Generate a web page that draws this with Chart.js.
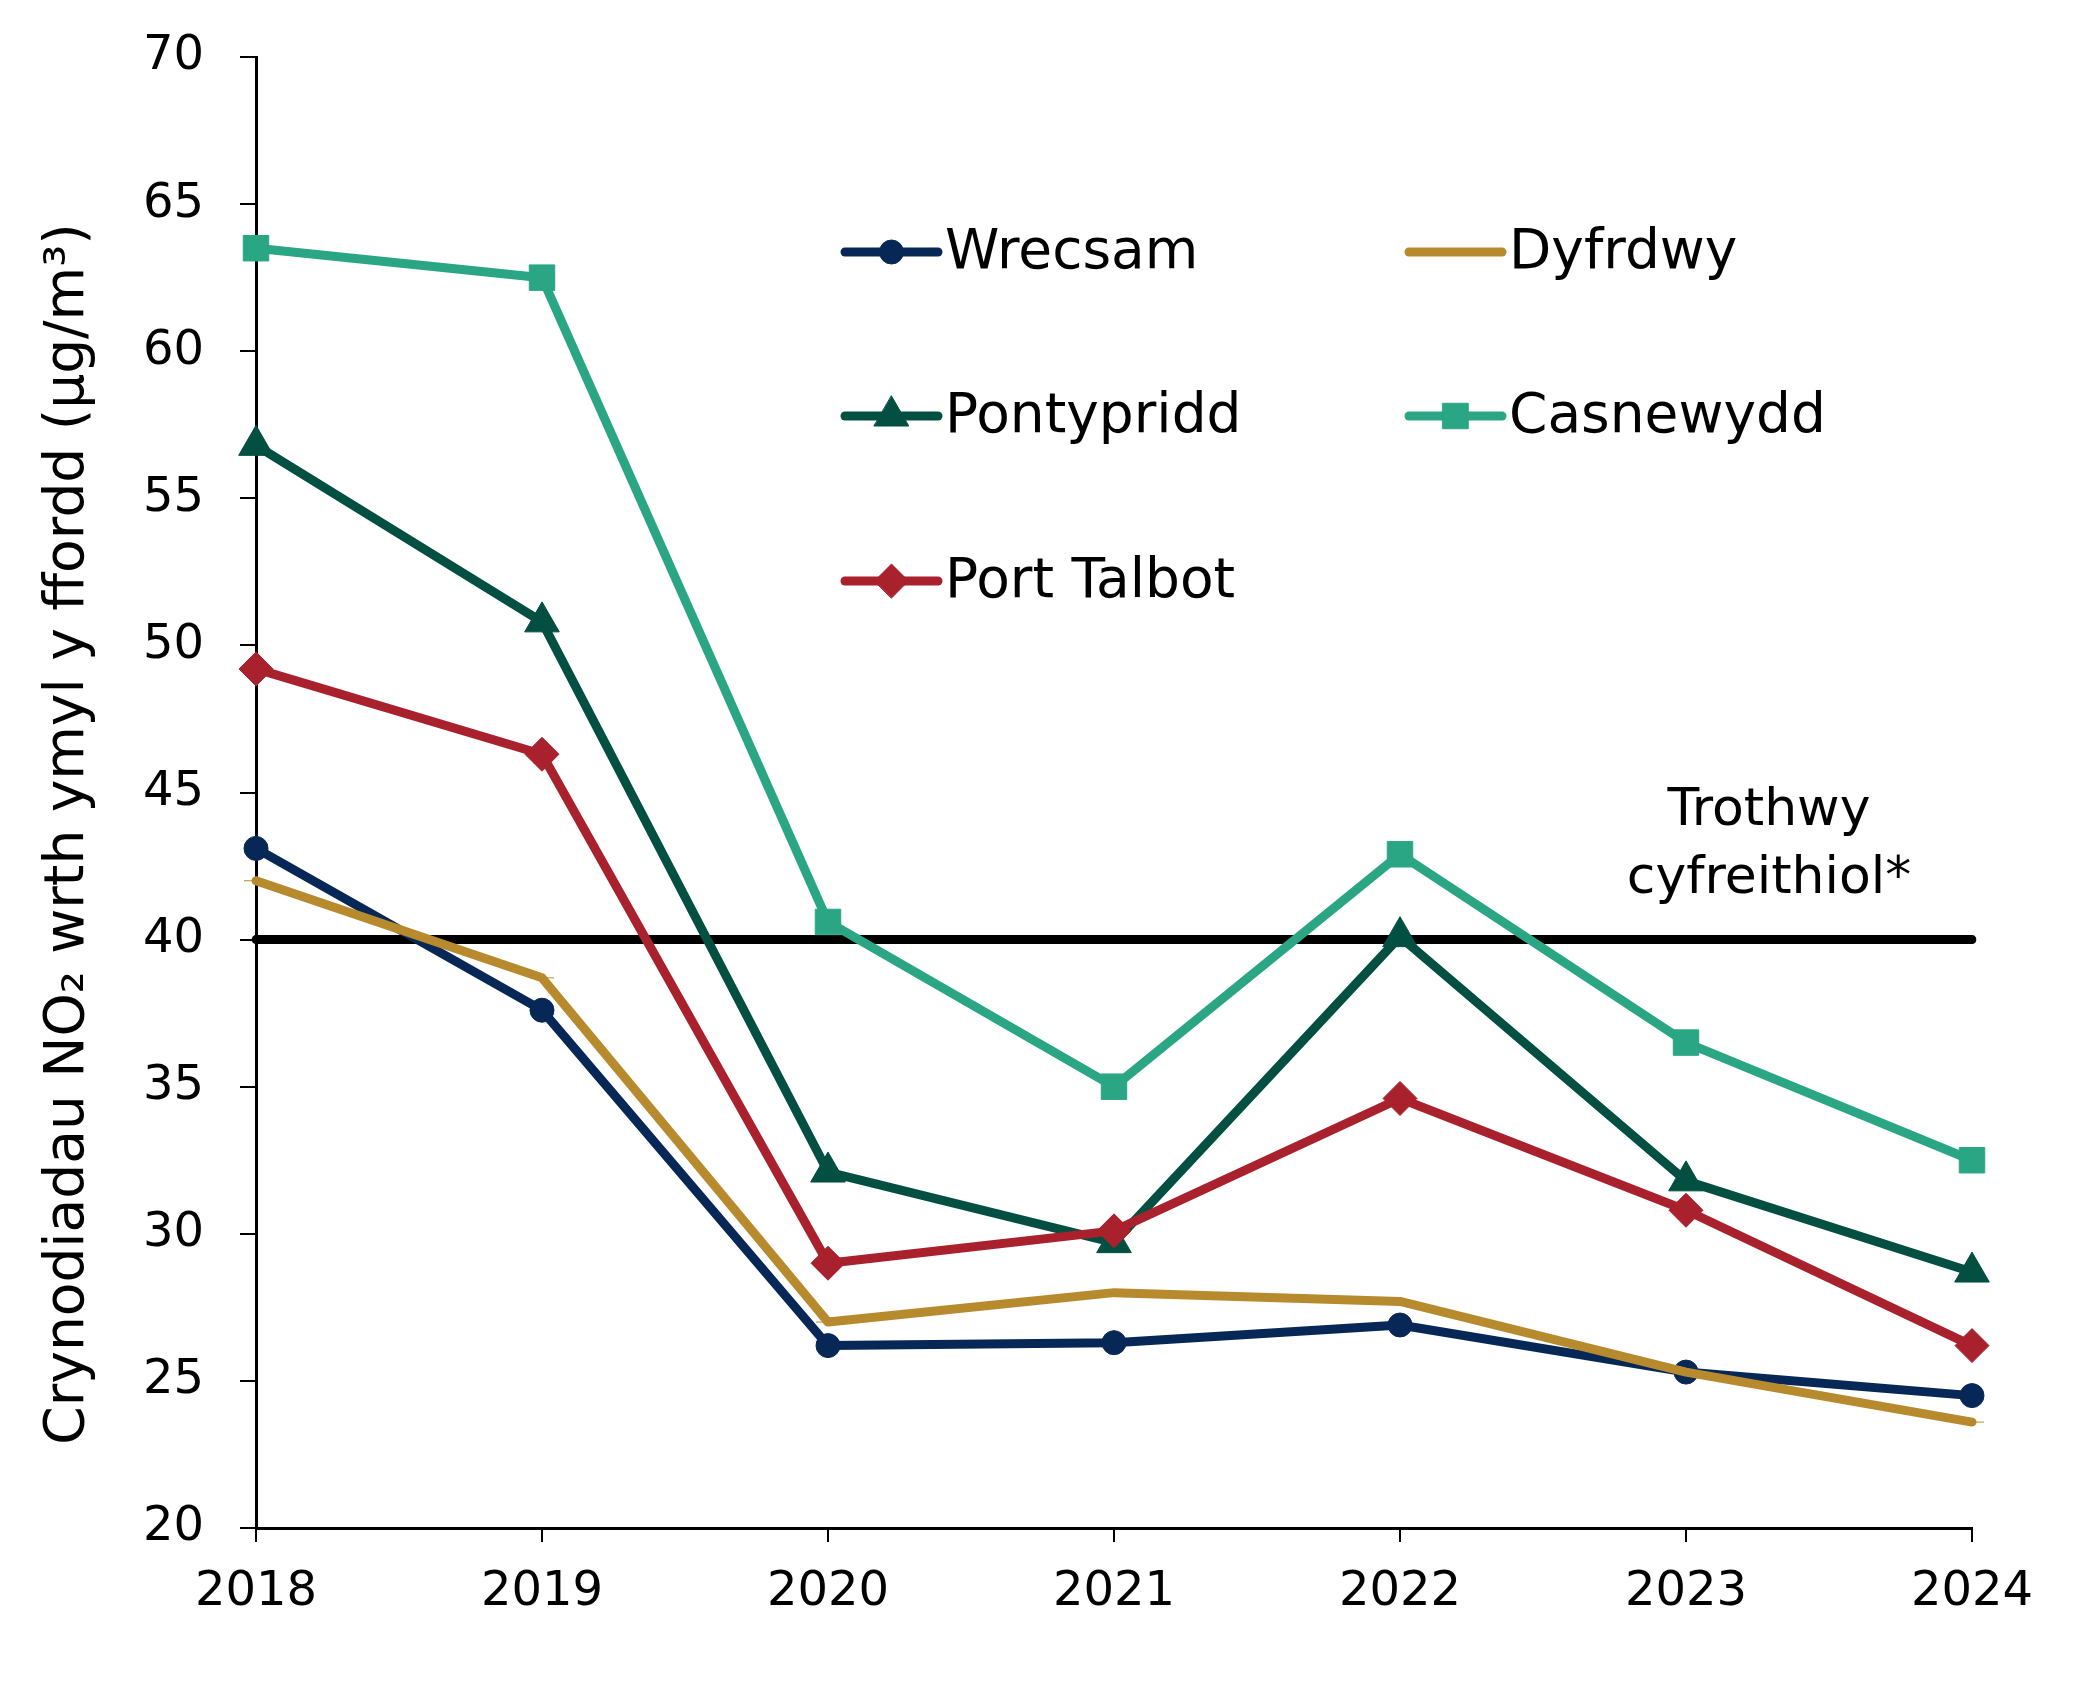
<!DOCTYPE html>
<html>
<head>
<meta charset="utf-8">
<script src="https://cdn.jsdelivr.net/npm/chart.js@4"></script>
<style>
  html, body { margin: 0; padding: 0; background: #fff; }
  #wrap { width: 2084px; height: 1703px; }
</style>
</head>
<body>
<div id="wrap"><canvas id="no2Chart" width="2084" height="1703"></canvas></div>
<script>
// data
const years = ['2018', '2019', '2020', '2021', '2022', '2023', '2024'];
const wrecsam = [43.1, 37.6, 26.2, 26.3, 26.9, 25.3, 24.5];
const dyfrdwy = [42.0, 38.7, 27.0, 28.0, 27.7, 25.3, 23.6];
const pontypridd = [56.8, 50.8, 32.1, 29.7, 40.1, 31.8, 28.7];
const casnewydd = [63.5, 62.5, 40.6, 35.0, 42.9, 36.5, 32.5];
const portTalbot = [49.2, 46.3, 29.0, 30.1, 34.6, 30.8, 26.2];
const thresholdValue = 40;
const thresholdLabel = ['Trothwy', 'cyfreithiol*'];
const yTitle = 'Crynodiadau NO₂ wrth ymyl y ffordd (µg/m³)';

const FONT = "'DejaVu Sans', sans-serif";

function series(label, data, color, style, radius, order) {
    return {
        label: label,
        data: data,
        borderColor: color,
        backgroundColor: color,
        borderWidth: 9,
        borderCapStyle: 'round',
        borderJoinStyle: 'round',
        pointStyle: style,
        pointRadius: radius,
        pointHoverRadius: radius,
        pointBorderWidth: 1,
        pointBackgroundColor: color,
        pointBorderColor: color,
        tension: 0,
        order: order
    };
}

const datasets = [
    series('Wrecsam', wrecsam, '#072857', 'circle', 12, 5),
    series('Dyfrdwy', dyfrdwy, '#B78A2E', 'line', 12, 4),
    series('Pontypridd', pontypridd, '#034F41', 'triangle', 20, 3),
    series('Casnewydd', casnewydd, '#2BA684', 'rect', 18, 2),
    series('Port Talbot', portTalbot, '#A9212D', 'rectRot', 17, 1),
    {
        label: 'threshold',
        data: years.map(() => thresholdValue),
        borderColor: '#000',
        borderWidth: 9,
        borderCapStyle: 'round',
        pointRadius: 0,
        pointHoverRadius: 0,
        order: 10
    }
];

// legend in two columns inside the plot, threshold label and y title
const extrasPlugin = {
    id: 'extras',
    afterDatasetsDraw(chart) {
        const ctx = chart.ctx;
        const cols = [845, 1409];
        const rows = [252, 416, 581];
        const lineLen = 93;
        ctx.save();
        for (let i = 0; i < 5; i++) {
            const ds = chart.data.datasets[i];
            const x = cols[i % 2];
            const y = rows[Math.floor(i / 2)];
            ctx.strokeStyle = ds.borderColor;
            ctx.lineWidth = 9;
            ctx.lineCap = 'round';
            ctx.beginPath();
            ctx.moveTo(x, y);
            ctx.lineTo(x + lineLen, y);
            ctx.stroke();
            if (ds.pointStyle !== 'line') {
                ctx.fillStyle = ds.backgroundColor;
                ctx.strokeStyle = ds.borderColor;
                ctx.lineWidth = 1;
                Chart.helpers.drawPoint(ctx, {
                    pointStyle: ds.pointStyle,
                    radius: ds.pointRadius,
                    rotation: 0,
                    borderWidth: 1
                }, x + lineLen / 2, y);
            }
            ctx.fillStyle = '#000';
            ctx.font = '55px ' + FONT;
            ctx.textAlign = 'left';
            ctx.textBaseline = 'middle';
            ctx.fillText(ds.label, x + lineLen + 7, y + 2);
        }
        // threshold label
        const yScale = chart.scales.y;
        const ty = yScale.getPixelForValue(thresholdValue);
        ctx.font = '52px ' + FONT;
        ctx.textAlign = 'center';
        ctx.textBaseline = 'middle';
        ctx.fillText(thresholdLabel[0], 1769, ty - 128);
        ctx.fillText(thresholdLabel[1], 1769, ty - 60);
        // y axis title
        ctx.translate(69, 834);
        ctx.rotate(-Math.PI / 2);
        ctx.font = '55px ' + FONT;
        ctx.fillText(yTitle, 0, 0);
        ctx.restore();
    }
};

new Chart(document.getElementById('no2Chart'), {
    type: 'line',
    data: { labels: years, datasets: datasets },
    options: {
        responsive: false,
        devicePixelRatio: 1,
        animation: false,
        layout: { padding: { left: 0, right: 112, top: 57, bottom: 0 } },
        plugins: {
            legend: { display: false },
            tooltip: { enabled: false }
        },
        scales: {
            x: {
                type: 'category',
                offset: false,
                border: { display: true, color: '#000', width: 3 },
                grid: { drawOnChartArea: false, drawTicks: true, tickLength: 14, color: '#000', lineWidth: 2 },
                ticks: { color: '#000', font: { family: FONT, size: 48 }, padding: 22, maxRotation: 0, autoSkip: false },
                afterFit(scale) { scale.height = 175; scale.paddingLeft = 0; scale.paddingRight = 0; }
            },
            y: {
                min: 20,
                max: 70,
                border: { display: true, color: '#000', width: 3 },
                grid: { drawOnChartArea: false, drawTicks: true, tickLength: 16, color: '#000', lineWidth: 2 },
                ticks: { stepSize: 5, color: '#000', font: { family: FONT, size: 48 }, padding: 36 },
                afterFit(scale) { scale.width = 256; scale.paddingTop = 0; scale.paddingBottom = 0; }
            }
        }
    },
    plugins: [extrasPlugin]
});
</script>
</body>
</html>
